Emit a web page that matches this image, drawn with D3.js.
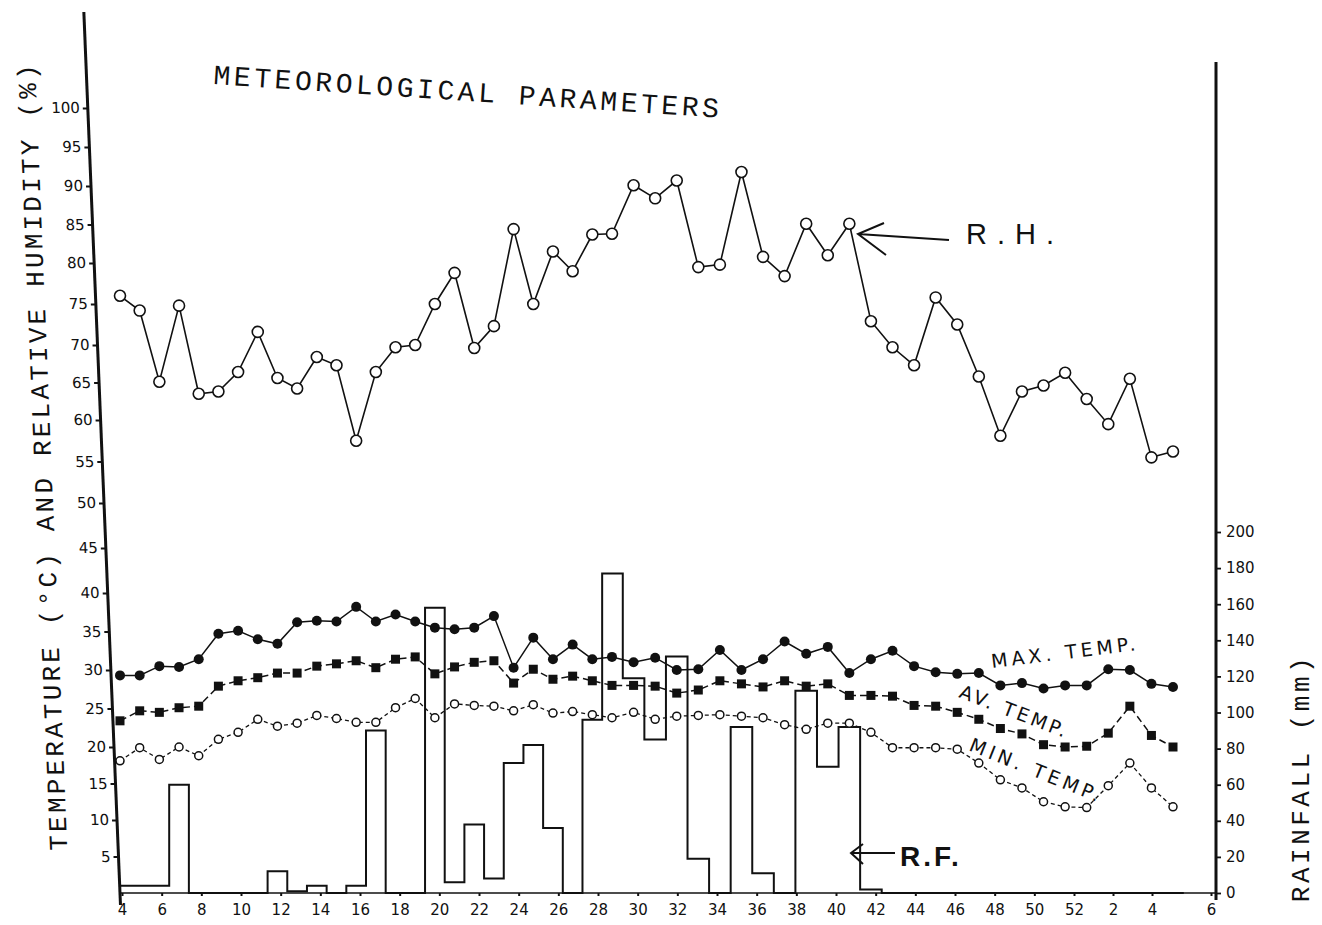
<!DOCTYPE html>
<html><head><meta charset="utf-8">
<script src="https://cdn.jsdelivr.net/npm/d3@7"></script>
<style>
body{margin:0;background:#fff;}
svg{display:block;}
</style></head><body>
<svg id="chart" width="1322" height="925"></svg>
<script>
// ---------- data ----------
const weeks = [4,5,6,7,8,9,10,11,12,13,14,15,16,17,18,19,20,21,22,23,24,25,26,27,28,29,30,31,32,33,34,35,36,37,38,39,40,41,42,43,44,45,46,47,48,49,50,51,52,53,54,55];
const relHumidity = [76,74.2,65.1,74.8,63.5,63.8,66.4,71.6,65.6,64.2,68.4,67.3,57.5,66.4,69.7,70,75,78.8,69.6,72.3,84.4,75,81.5,79,83.7,83.8,90.1,88.4,90.7,79.5,79.8,91.8,80.8,78.4,85.1,81,85.1,72.9,69.7,67.3,75.8,72.5,65.8,58.1,63.8,64.6,66.3,62.8,59.5,65.5,55.5,56.2];
const maxTemp = [29.3,29.3,30.5,30.4,31.4,34.7,35.1,34.0,33.4,36.2,36.4,36.3,38.2,36.3,37.2,36.3,35.5,35.3,35.5,37.0,30.3,34.2,31.4,33.3,31.4,31.7,31.0,31.6,30.0,30.1,32.6,30.0,31.4,33.7,32.1,33.0,29.6,31.4,32.5,30.5,29.7,29.5,29.6,28.0,28.3,27.6,28.0,28.0,30.1,30.0,28.2,27.8];
const avTemp = [23.4,24.7,24.5,25.1,25.3,27.9,28.6,29.0,29.6,29.6,30.5,30.8,31.2,30.3,31.4,31.7,29.5,30.4,31.0,31.2,28.3,30.1,28.8,29.2,28.6,28.0,28.0,27.9,27.0,27.4,28.6,28.2,27.8,28.6,27.9,28.2,26.7,26.7,26.6,25.4,25.3,24.5,23.6,22.4,21.7,20.3,20.0,20.1,21.8,25.3,21.5,20.0];
const minTemp = [18.1,19.9,18.3,20.0,18.8,21.0,21.9,23.6,22.7,23.1,24.1,23.7,23.2,23.2,25.1,26.3,23.8,25.6,25.4,25.3,24.7,25.5,24.4,24.6,24.2,23.8,24.5,23.6,24.0,24.1,24.2,24.0,23.8,22.9,22.3,23.1,23.1,21.9,19.9,19.9,19.9,19.7,17.8,15.5,14.4,12.5,11.8,11.7,14.7,17.8,14.4,11.8];
const rainfall = [4,4,4,60,0,0,0,0,12,1,4,0,4,90,0,0,158,6,38,8,72,82,36,0,96,177,119,85,131,19,0,92,11,0,112,70,92,2,0,0,0,0,0,0,0,0,0,0,0,0,0,0];
const xTickValues = [4,6,8,10,12,14,16,18,20,22,24,26,28,30,32,34,36,38,40,42,44,46,48,50,52,54,56,58];
const xTickLabels = ["4","6","8","10","12","14","16","18","20","22","24","26","28","30","32","34","36","38","40","42","44","46","48","50","52","2","4","6"];
const leftTicks = [5,10,15,20,25,30,35,40,45,50,55,60,65,70,75,80,85,90,95,100];
const rightTicks = [0,20,40,60,80,100,120,140,160,180,200];

// ---------- scales ----------
const svg = d3.select("#chart");
const x = d3.scaleLinear().domain([4, 29, 55]).range([120, 612, 1173]);
const xt = d3.scaleLinear().domain([4, 52, 56, 58]).range([122, 1074, 1152, 1211]);
const y = d3.scaleLinear()
  .domain([0,10,20,30,40,50,60,70,80,90,100])
  .range([893,820,747,670,593,503,420,345,263,186,108]);
const yR = d3.scaleLinear().domain([0, 200]).range([893, 532]);

const ink = "#111";
const hand = "'DejaVu Sans', sans-serif";
const mono = "'Liberation Mono', 'DejaVu Sans Mono', monospace";

// ---------- rainfall step outline ----------
const rainPts = [];
weeks.forEach((w, i) => {
  rainPts.push([Math.max(x(w - 0.5), x(weeks[0])), rainfall[i]]);
  rainPts.push([x(w + 0.5), rainfall[i]]);
});
svg.append("path")
  .attr("d", d3.line().x(d => d[0]).y(d => yR(d[1]))(rainPts))
  .attr("fill", "none").attr("stroke", ink).attr("stroke-width", 2);

// ---------- x axis ----------
const gx = svg.append("g").attr("transform", `translate(0,${yR(0)})`)
  .call(d3.axisBottom(xt).tickValues(xTickValues).tickFormat((d, i) => xTickLabels[i]).tickSize(3).tickPadding(8));
gx.select(".domain").attr("d", `M${x(weeks[0])},0H1216`).attr("stroke", ink).attr("stroke-width", 1.6);
gx.selectAll(".tick line").attr("stroke", ink).attr("stroke-width", 2);
gx.selectAll("text").attr("font-family", hand).attr("font-size", 15).attr("fill", ink);

// ---------- left axis (slanted like the scan) ----------
const gl = svg.append("g")
  .attr("transform", `translate(120,${y(0)}) skewX(2.35) translate(0,${-y(0)})`);
gl.call(d3.axisLeft(y).tickValues(leftTicks).tickSize(5).tickPadding(3));
gl.select(".domain").attr("d", `M0,12V${y(0) + 12}`).attr("stroke", ink).attr("stroke-width", 3);
gl.selectAll(".tick line").attr("stroke", ink).attr("stroke-width", 1.8);
gl.selectAll("text").attr("font-family", hand).attr("font-size", 15).attr("fill", ink);
gl.append("text").text("TEMPERATURE (°C) AND RELATIVE HUMIDITY (%)")
  .attr("transform", "translate(-51,456) rotate(-90)").attr("text-anchor", "middle")
  .attr("font-family", mono).attr("font-size", 26).attr("letter-spacing", 3.2).attr("fill", ink);

// ---------- right axis ----------
const gr = svg.append("g").attr("transform", "translate(1216,0)")
  .call(d3.axisRight(yR).tickValues(rightTicks).tickSize(5).tickPadding(5));
gr.select(".domain").attr("d", `M0,62V${yR(0) + 7}`).attr("stroke", ink).attr("stroke-width", 3);
gr.selectAll(".tick line").attr("stroke", ink).attr("stroke-width", 1.8);
gr.selectAll("text").attr("font-family", hand).attr("font-size", 15).attr("fill", ink);

// ---------- series lines ----------
function series(vals, dash, width) {
  svg.append("path")
    .attr("d", d3.line().x((d, i) => x(weeks[i])).y(d => y(d))(vals))
    .attr("fill", "none").attr("stroke", ink).attr("stroke-width", width)
    .attr("stroke-dasharray", dash);
}
series(relHumidity, null, 1.6);
series(maxTemp, null, 1.5);
series(avTemp, "7,4", 1.5);
series(minTemp, "4,3", 1.3);

// markers
svg.append("g").selectAll("circle").data(relHumidity).join("circle")
  .attr("cx", (d, i) => x(weeks[i])).attr("cy", d => y(d)).attr("r", 5.5)
  .attr("fill", "#fff").attr("stroke", ink).attr("stroke-width", 1.6);
svg.append("g").selectAll("circle").data(maxTemp).join("circle")
  .attr("cx", (d, i) => x(weeks[i])).attr("cy", d => y(d)).attr("r", 5)
  .attr("fill", ink);
svg.append("g").selectAll("rect").data(avTemp).join("rect")
  .attr("x", (d, i) => x(weeks[i]) - 4.5).attr("y", d => y(d) - 4.5)
  .attr("width", 9).attr("height", 9).attr("fill", ink);
svg.append("g").selectAll("circle").data(minTemp).join("circle")
  .attr("cx", (d, i) => x(weeks[i])).attr("cy", d => y(d)).attr("r", 4)
  .attr("fill", "#fff").attr("stroke", ink).attr("stroke-width", 1.5);

// ---------- titles ----------
svg.append("text").text("METEOROLOGICAL PARAMETERS")
  .attr("transform", "translate(213,84) rotate(3.8)")
  .attr("font-family", mono).attr("font-size", 28).attr("letter-spacing", 3.6).attr("fill", ink);
svg.append("text").text("RAINFALL (mm)")
  .attr("transform", "translate(1309,778) rotate(-90)").attr("text-anchor", "middle")
  .attr("font-family", mono).attr("font-size", 26).attr("letter-spacing", 3.5).attr("fill", ink);

// ---------- annotations ----------
svg.append("text").text("R.H.").attr("x", 966).attr("y", 244)
  .attr("font-family", "'Liberation Sans', sans-serif").attr("font-size", 29)
  .attr("letter-spacing", 10).attr("fill", ink);
svg.append("path").attr("d", "M949,240L858,234M884,223L858,234L886,255")
  .attr("fill", "none").attr("stroke", ink).attr("stroke-width", 2);

svg.append("text").text("R.F.").attr("x", 900).attr("y", 866)
  .attr("font-family", "'Liberation Sans', sans-serif").attr("font-weight", "bold").attr("font-size", 28)
  .attr("letter-spacing", 3).attr("fill", ink);
svg.append("path").attr("d", "M895,853L851,853M863,844L851,853L863,864")
  .attr("fill", "none").attr("stroke", ink).attr("stroke-width", 2);

svg.append("text").text("MAX. TEMP.")
  .attr("transform", "translate(992,668) rotate(-7)")
  .attr("font-family", hand).attr("font-size", 19).attr("letter-spacing", 4).attr("fill", ink);
svg.append("text").text("AV. TEMP.")
  .attr("transform", "translate(958,697) rotate(21)")
  .attr("font-family", hand).attr("font-size", 19).attr("letter-spacing", 3).attr("fill", ink);
svg.append("text").text("MIN. TEMP.")
  .attr("transform", "translate(968,750) rotate(22)")
  .attr("font-family", hand).attr("font-size", 19).attr("letter-spacing", 4).attr("fill", ink);
</script>
</body></html>
